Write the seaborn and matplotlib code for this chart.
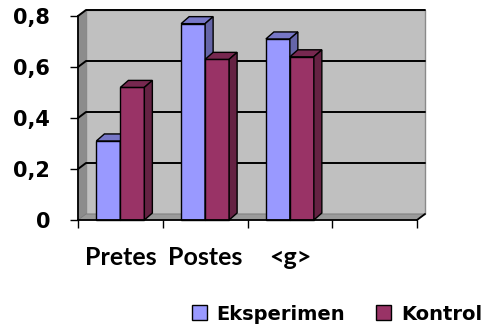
import numpy as np
import pandas as pd
import matplotlib
matplotlib.use("Agg")
import matplotlib.pyplot as plt
from matplotlib.patches import Polygon, Patch
from matplotlib.lines import Line2D
from matplotlib.transforms import IdentityTransform
from matplotlib.font_manager import FontProperties
import seaborn as sns

# ---- data -------------------------------------------------------------
categories = ["Pretes", "Postes", "<g>"]
groups = ["Eksperimen", "Kontrol"]
eksperimen = [0.31, 0.77, 0.71]
kontrol = [0.52, 0.63, 0.64]
y_ticks = [0, 0.2, 0.4, 0.6, 0.8]
y_tick_labels = ["0", "0,2", "0,4", "0,6", "0,8"]
n_slots = 4  # category axis keeps one empty slot on the right

front_colors = {"Eksperimen": "#9999FF", "Kontrol": "#993366"}

df = pd.DataFrame({
    "phase": categories * 2,
    "value": eksperimen + kontrol,
    "group": [groups[0]] * len(categories) + [groups[1]] * len(categories),
})

# ---- figure -----------------------------------------------------------
sns.set_theme(style="white")
plt.rcParams["font.family"] = ["Lato", "DejaVu Sans"]
plt.rcParams["text.color"] = "black"

W, H, DPI = 486, 329, 100
fig = plt.figure(figsize=(W / DPI, H / DPI), dpi=DPI)
fig.patch.set_facecolor("white")
ax = fig.add_axes([78 / W, 109 / H, 339 / W, 204 / H])
ax.patch.set_alpha(0)

sns.barplot(data=df, x="phase", y="value", hue="group", order=categories,
            hue_order=groups, palette=front_colors, width=0.566,
            saturation=1, edgecolor="black", linewidth=1.0, legend=False,
            ax=ax)
bars = list(ax.patches)

ax.set_autoscale_on(False)
ax.set_xlim(-0.5, n_slots - 0.5)
ax.set_ylim(y_ticks[0], y_ticks[-1])
ax.set_xlabel("")
ax.set_ylabel("")

# depth of the pseudo-3D box (pixels)
WDX, WDY = 8, 6      # walls / floor
BDX, BDY = 8, 7      # bars


def px(x, y, dx=0.0, dy=0.0):
    X, Y = ax.transData.transform((x, y))
    return (X + dx, Y + dy)


def poly(points, fc, ec, lw, z):
    p = Polygon(points, closed=True, facecolor=fc, edgecolor=ec, lw=lw,
                transform=IdentityTransform(), zorder=z, clip_on=False)
    ax.add_patch(p)
    return p


x_lo, x_hi = -0.5, n_slots - 0.5
y_lo, y_hi = y_ticks[0], y_ticks[-1]

# back wall, left wall and floor
poly([px(x_lo, y_lo, WDX, WDY), px(x_hi, y_lo, WDX, WDY),
      px(x_hi, y_hi, WDX, WDY), px(x_lo, y_hi, WDX, WDY)],
     "#C0C0C0", "#8A8A8A", 1.0, 0.1)
poly([px(x_lo, y_lo), px(x_lo, y_hi),
      px(x_lo, y_hi, WDX, WDY), px(x_lo, y_lo, WDX, WDY)],
     "#8C8C8C", "#8C8C8C", 0.5, 0.2)
poly([px(x_lo, y_lo), px(x_hi, y_lo),
      px(x_hi, y_lo, WDX, WDY), px(x_lo, y_lo, WDX, WDY)],
     "#9A9A9A", "#7A7A7A", 0.6, 0.2)

# gridlines running across the left wall and along the back wall
for yv in y_ticks[1:]:
    pts = [px(x_lo, yv), px(x_lo, yv, WDX, WDY), px(x_hi, yv, WDX, WDY)]
    xs, ys = zip(*pts)
    ax.add_line(Line2D(xs, ys, color="black", lw=1.4,
                       transform=IdentityTransform(), zorder=0.5,
                       clip_on=False))
# front-right edge of the floor
xs, ys = zip(px(x_hi, y_lo), px(x_hi, y_lo, WDX, WDY))
ax.add_line(Line2D(xs, ys, color="black", lw=1.3,
                   transform=IdentityTransform(), zorder=0.5, clip_on=False))


def shade(color, f):
    c = np.array(matplotlib.colors.to_rgb(color))
    return tuple(c * f)


# top and side faces of every bar
for bar in bars:
    x0 = bar.get_x()
    x1 = x0 + bar.get_width()
    h = bar.get_height()
    fc = bar.get_facecolor()[:3]
    is_first = np.allclose(fc, matplotlib.colors.to_rgb(front_colors[groups[0]]))
    z = 2 if is_first else 3
    bar.set_zorder(z)
    bar.set_clip_on(False)
    poly([px(x0, h), px(x1, h), px(x1, h, BDX, BDY), px(x0, h, BDX, BDY)],
         shade(fc, 0.78), "black", 1.0, z)
    poly([px(x1, 0), px(x1, h), px(x1, h, BDX, BDY), px(x1, 0, BDX, BDY)],
         shade(fc, 0.66), "black", 1.0, z)

# ---- axes, ticks, labels ----------------------------------------------
for side in ("top", "right"):
    ax.spines[side].set_visible(False)
for side in ("left", "bottom"):
    ax.spines[side].set_color("black")
    ax.spines[side].set_linewidth(1.3)
    ax.spines[side].set_zorder(4)

ax.set_yticks(y_ticks, y_tick_labels)
ax.tick_params(axis="y", direction="out", length=6, width=1.0,
               color="black", pad=14, left=True, labelcolor="black")
for lab in ax.get_yticklabels():
    lab.set_fontfamily(["DejaVu Sans"])
    lab.set_fontweight("bold")
    lab.set_fontsize(15)

ax.set_xticks(range(len(categories)), categories)
ax.set_xticks(np.arange(x_lo, x_hi + 0.01, 1.0), minor=True)
ax.tick_params(axis="x", which="major", length=0, pad=19, labelcolor="black")
ax.tick_params(axis="x", which="minor", direction="out", length=6,
               width=1.0, color="black", bottom=True)
for lab in ax.get_xticklabels():
    lab.set_fontfamily(["Lato", "DejaVu Sans"])
    lab.set_fontweight("bold")
    lab.set_fontsize(18)

# ---- legend -----------------------------------------------------------
handles = [Patch(facecolor=front_colors[g], edgecolor="black", lw=1.0)
           for g in groups]
fig.legend(handles, groups, loc="center left",
           bbox_to_anchor=(192 / W, 1 - 314 / H), ncol=2, frameon=False,
           borderpad=0, borderaxespad=0, handlelength=0.77,
           handleheight=0.77, handletextpad=0.5, columnspacing=1.6,
           labelcolor="black",
           prop=FontProperties(family="DejaVu Sans", weight="bold", size=14))

fig.savefig("out.png", dpi=DPI)
